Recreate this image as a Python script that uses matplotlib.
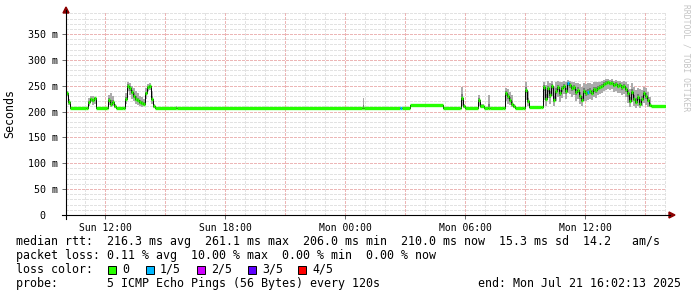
import numpy as np
import matplotlib
matplotlib.use('Agg')
import matplotlib.pyplot as plt
from matplotlib.patches import Rectangle, Polygon

# ---- Data (hours since Sun 00:00, values in ms)
t_start, t_end = 10.04, 40.04

t = [10.04, 10.14, 10.24, 11.04, 11.14, 11.24, 11.34, 11.44, 11.54,
     12.09, 12.14, 12.24, 12.34, 12.44, 12.54,
     12.89, 12.99, 13.09, 13.19, 13.29, 13.39, 13.49, 13.59, 13.69, 13.79,
     13.89, 13.99, 14.09, 14.19, 14.29, 14.39, 14.49,
     15.54, 15.59, 24.84, 24.89, 24.94, 26.74, 26.84, 27.24, 28.89,
     29.74, 29.79, 29.89, 29.99, 30.64, 30.74, 30.94, 31.14, 31.24,
     31.89, 31.99, 32.09, 32.19, 32.29, 32.39, 32.49,
     32.89, 32.99, 33.09, 33.19, 33.79,
     33.89, 33.99, 34.09, 34.19, 34.29, 34.39, 34.49, 34.59, 34.69, 34.79,
     34.89, 34.99, 35.09, 35.19, 35.29, 35.39, 35.49, 35.59, 35.69, 35.79,
     35.89, 35.99, 36.09, 36.19, 36.29, 36.39, 36.49, 36.59, 36.69, 36.79,
     36.89, 36.99, 37.09, 37.19, 37.29, 37.39, 37.49, 37.59, 37.69, 37.79,
     37.89, 37.99, 38.09, 38.19, 38.29, 38.39, 38.49, 38.59, 38.69, 38.79,
     38.89, 38.99, 39.09, 39.19, 39.29]

median = [235, 218, 207, 207, 218, 225, 222, 226, 207,
          207, 222, 215, 218, 210, 207,
          207, 225, 250, 245, 238, 230, 224, 222, 218, 216,
          214, 235, 248, 250, 225, 210, 207,
          207, 207, 207, 207, 207, 207, 207, 212, 207,
          206, 226, 210, 207, 222, 210, 207, 207, 207,
          207, 236, 230, 222, 215, 210, 207,
          207, 242, 220, 208, 208,
          248, 225, 245, 232, 250, 222, 240, 248, 235, 245,
          250, 240, 255, 252, 245, 248, 238, 242, 230, 222,
          240, 236, 238, 240, 236, 244, 242, 246, 248, 250,
          254, 256, 257, 255, 256, 252, 254, 250, 252, 248,
          250, 244, 235, 220, 238, 225, 218, 228, 215, 225,
          236, 230, 222, 212, 210]

smoke_lo = [230, 212, 206, 206, 210, 218, 212, 215, 206,
            206, 212, 208, 210, 207, 206,
            206, 215, 240, 232, 225, 220, 215, 212, 210, 208,
            210, 225, 240, 242, 215, 207, 206,
            206, 206, 206, 206, 206, 206, 206, 211, 206,
            205, 210, 207, 206, 210, 207, 206, 206, 206,
            206, 220, 215, 212, 208, 207, 206,
            206, 222, 210, 207, 207,
            222, 210, 226, 214, 230, 210, 220, 228, 218, 226,
            234, 224, 236, 234, 228, 232, 220, 224, 214, 210,
            220, 220, 222, 224, 222, 228, 226, 232, 234, 236,
            240, 242, 244, 242, 244, 238, 240, 236, 236, 232,
            234, 228, 216, 209, 218, 210, 207, 210, 207, 210,
            216, 212, 209, 208, 209]

smoke_hi = [240, 225, 208, 208, 226, 230, 230, 229, 208,
            208, 232, 236, 230, 215, 208,
            208, 235, 258, 256, 250, 245, 240, 235, 230, 228,
            225, 245, 254, 255, 240, 215, 209,
            211, 208, 208, 226, 208, 208, 208, 213, 208,
            207, 248, 215, 208, 232, 215, 208, 232, 208,
            208, 245, 244, 238, 232, 215, 209,
            208, 257, 240, 210, 210,
            257, 252, 260, 255, 260, 248, 257, 260, 258, 257,
            260, 257, 262, 260, 257, 258, 255, 256, 253, 248,
            255, 253, 255, 255, 253, 257, 257, 258, 258, 260,
            262, 263, 263, 262, 263, 260, 262, 260, 260, 258,
            260, 257, 253, 244, 255, 248, 242, 246, 243, 241,
            247, 245, 238, 228, 211]

# loss level per sample (0 .. 4 of 5 pings lost)
loss = [0] * len(t)
loss[t.index(26.74)] = 1
loss[t.index(35.09)] = 1
loss[t.index(36.09)] = 1

loss_colors = ['#26ff00', '#00b8ff', '#d000ff', '#5e00ff', '#ff0000']
loss_labels = ['0', '1/5', '2/5', '3/5', '4/5']

xtick_pos = [12, 18, 24, 30, 36]
xtick_labels = ['Sun 12:00', 'Sun 18:00', 'Mon 00:00', 'Mon 06:00',
                'Mon 12:00']
ytick_pos = [0, 50, 100, 150, 200, 250, 300, 350]
ytick_labels = ['0  ', '50 m', '100 m', '150 m', '200 m', '250 m', '300 m',
                '350 m']

# ---- Figure
W, H = 697, 297
fig = plt.figure(figsize=(W / 100, H / 100), dpi=100)
fig.patch.set_facecolor('white')


def fx(px):
    return px / W


def fy(py):
    return 1 - py / H


ax_l, ax_r, ax_t, ax_b = 66, 666, 12.3, 215
ax = fig.add_axes([fx(ax_l), fy(ax_b), fx(ax_r - ax_l), (ax_b - ax_t) / H])
ax.set_xlim(t_start, t_end)
ax.set_ylim(0, 392)
for s in ax.spines.values():
    s.set_visible(False)

# Grid
minor_c, major_c = '#e2e2e2', '#ecb6b6'
dot = (0, (2.8, 1.8))
for y in range(10, 392, 10):
    ax.axhline(y, color=major_c if y % 50 == 0 else minor_c, lw=0.72,
               ls=dot, zorder=0, antialiased=False)
for h in range(11, 41):
    ax.axvline(h, color=major_c if h % 3 == 0 else minor_c, lw=0.72,
               ls=dot, zorder=0, antialiased=False)

# Smoke
tt = np.array(t + [t_end])
med = np.array(median + [median[-1]])
lo = np.array(smoke_lo + [smoke_lo[-1]])
hi = np.array(smoke_hi + [smoke_hi[-1]])
ax.fill_between(tt, lo, hi, step='post', color='#ababab', lw=0, zorder=1)
ax.fill_between(tt, (lo + 2 * med) / 3, (hi + 2 * med) / 3, step='post',
                color='#7a7a7a', lw=0, zorder=1)

# Median line: black risers, loss-coloured treads
ax.step(tt, med, where='post', color='black', lw=0.7, zorder=2)
ax.hlines(median, t, list(tt[1:]), colors=[loss_colors[l] for l in loss],
          lw=2.4, zorder=3)

# Ticks
ax.set_xticks(xtick_pos)
ax.set_xticklabels(xtick_labels, family='DejaVu Sans Mono', fontsize=7)
ax.set_yticks(ytick_pos)
ax.set_yticklabels(ytick_labels, family='DejaVu Sans Mono', fontsize=7.2)
ax.tick_params(axis='both', length=3, width=0.6, color='#555555', pad=2.5)
ax.set_facecolor('white')

# Axis lines with arrows
fig.add_artist(plt.Line2D([fx(62), fx(670)], [fy(ax_b), fy(ax_b)],
                          color='black', lw=0.8))
fig.add_artist(plt.Line2D([fx(ax_l), fx(ax_l)], [fy(219), fy(10)],
                          color='black', lw=0.8))
fig.add_artist(Polygon([[fx(669), fy(212)], [fx(675), fy(215)],
                        [fx(669), fy(218)]], closed=True, color='#8b0000'))
fig.add_artist(Polygon([[fx(63), fy(13)], [fx(66), fy(7)], [fx(69), fy(13)]],
                       closed=True, color='#8b0000'))

mono = 'DejaVu Sans Mono'
fig.text(fx(10), fy(114), 'Seconds', rotation=90, ha='center', va='center',
         family=mono, fontsize=8.4)
fig.text(fx(686), fy(4), 'RRDTOOL / TOBI OETIKER', rotation=270,
         ha='center', va='top', family=mono, fontsize=5.8, color='#c4c4c4')

# Legend block
lx = fx(16)
fig.text(lx, fy(241.5),
         'median rtt:  216.3 ms avg  261.1 ms max  206.0 ms min  '
         '210.0 ms now  15.3 ms sd  14.2   am/s',
         family=mono, fontsize=8.4, va='center')
fig.text(lx, fy(255.5),
         'packet loss: 0.11 % avg  10.00 % max  0.00 % min  0.00 % now',
         family=mono, fontsize=8.4, va='center')
fig.text(lx, fy(269.5), 'loss color:', family=mono, fontsize=8.4,
         va='center')
box_x = [108, 146, 197, 248, 298]
for bx, c, lab in zip(box_x, loss_colors, loss_labels):
    fig.add_artist(Rectangle((fx(bx), fy(273.5)), 8 / W, 8 / H, fc=c,
                             ec='black', lw=0.7))
    fig.text(fx(bx + 14), fy(269.5), lab, family=mono, fontsize=8.4,
             va='center')
fig.text(lx, fy(283.5),
         'probe:       5 ICMP Echo Pings (56 Bytes) every 120s',
         family=mono, fontsize=8.4, va='center')
fig.text(fx(681), fy(283.5), 'end: Mon Jul 21 16:02:13 2025', family=mono,
         fontsize=8.4, va='center', ha='right')

fig.savefig('out.png', dpi=100)
